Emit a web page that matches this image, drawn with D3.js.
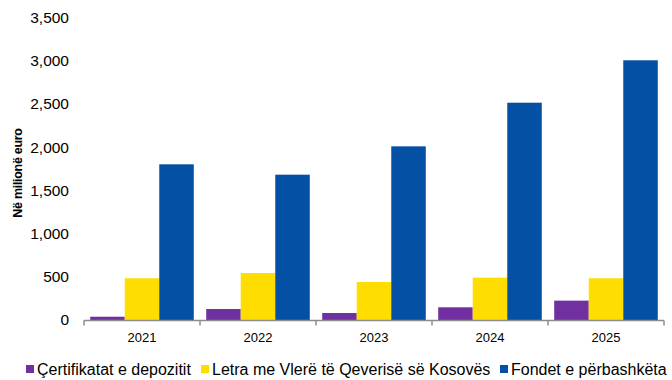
<!DOCTYPE html>
<html>
<head>
<meta charset="utf-8">
<script src="https://cdn.jsdelivr.net/npm/d3@7"></script>
<style>
  html, body { margin: 0; padding: 0; background: #fff; }
  svg { display: block; font-family: "Liberation Sans", Arial, sans-serif; }
</style>
</head>
<body>
<svg id="chart" width="672" height="380"></svg>
<script>
// Years on the category axis
const years = ["2021", "2022", "2023", "2024", "2025"];
// Series names (legend order)
const seriesNames = [
  "Çertifikatat e depozitit",
  "Letra me Vlerë të Qeverisë së Kosovës",
  "Fondet e përbashkëta"
];
// Values in millions of euro
const certificates = [38, 127, 81, 147, 224];
const govSecurities = [483, 544, 440, 490, 483];
const mutualFunds = [1802, 1682, 2010, 2515, 3006];
const seriesColors = ["#7030A0", "#FFDD00", "#0450A4"];
const yTicks = [0, 500, 1000, 1500, 2000, 2500, 3000, 3500];

const series = [certificates, govSecurities, mutualFunds];

const svg = d3.select("#chart");
const baseY = 320;
const font = "Liberation Sans, Arial, sans-serif";

const x = d3.scaleBand().domain(years).range([84, 664]).paddingInner(0).paddingOuter(0);
const sub = d3.scaleBand().domain(d3.range(series.length))
  .range([0, x.bandwidth()]).paddingInner(0).paddingOuter(0.18);
const y = d3.scaleLinear().domain([0, 3500]).range([baseY, 17.6]);

// Bars
const groups = svg.append("g").selectAll("g")
  .data(years).join("g")
  .attr("transform", d => `translate(${x(d)},0)`);

groups.selectAll("rect")
  .data((d, i) => series.map((s, k) => ({ k, v: s[i] })))
  .join("rect")
  .attr("x", d => sub(d.k))
  .attr("width", sub.bandwidth())
  .attr("y", d => y(d.v))
  .attr("height", d => baseY - y(d.v))
  .attr("fill", d => seriesColors[d.k]);

// Y axis labels (no axis line)
const yAxis = svg.append("g")
  .attr("transform", `translate(76,0)`)
  .call(d3.axisLeft(y).tickValues(yTicks).tickSize(0).tickPadding(7).tickFormat(d3.format(",")));
yAxis.select(".domain").remove();
yAxis.selectAll("text").attr("font-size", 15.5).attr("fill", "#000")
  .attr("font-family", font);

// X axis
const xAxis = svg.append("g")
  .attr("transform", `translate(0,${baseY + 0.5})`)
  .call(d3.axisBottom(x).tickSize(0).tickPadding(12));
xAxis.select(".domain").attr("stroke", "#8c8c8c").attr("stroke-width", 1.5)
  .attr("d", `M84,0H664`);
xAxis.selectAll("text").attr("font-size", 13).attr("fill", "#000")
  .attr("font-family", font);
// Category boundary tick marks
const boundaries = years.map(d => x(d)).concat([x(years[years.length - 1]) + x.bandwidth()]);
xAxis.selectAll(".bound").data(boundaries).join("line")
  .attr("class", "bound")
  .attr("x1", d => d).attr("x2", d => d)
  .attr("y1", 0).attr("y2", 5)
  .attr("stroke", "#8c8c8c").attr("stroke-width", 1.5);

// Y axis title
svg.append("text")
  .attr("transform", `translate(22,173) rotate(-90)`)
  .attr("text-anchor", "middle")
  .attr("font-size", 12.5)
  .attr("font-weight", "bold")
  .attr("letter-spacing", -0.3)
  .attr("fill", "#000")
  .attr("font-family", font)
  .text("Në milionë euro");

// Legend
const legendX = [26, 201, 500];
const legend = svg.append("g").attr("transform", "translate(0,375)");
const items = legend.selectAll("g").data(seriesNames).join("g")
  .attr("transform", (d, i) => `translate(${legendX[i]},0)`);
items.append("rect").attr("x", 0).attr("y", -10).attr("width", 8).attr("height", 8)
  .attr("fill", (d, i) => seriesColors[i]);
items.append("text").attr("x", 11).attr("y", 0)
  .attr("font-size", 16).attr("fill", "#000")
  .attr("font-family", font)
  .text(d => d);
</script>
</body>
</html>
